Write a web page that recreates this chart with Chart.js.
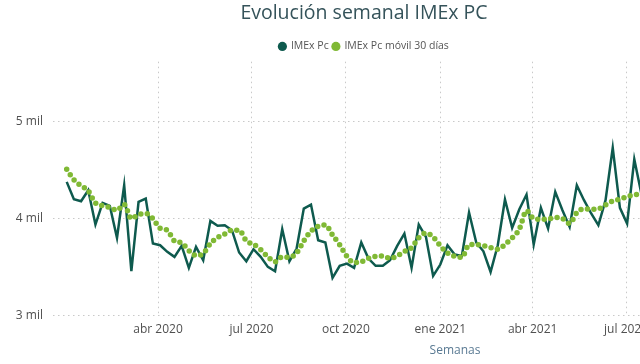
<!DOCTYPE html>
<html>
<head>
<meta charset="utf-8">
<script src="https://cdn.jsdelivr.net/npm/chart.js@4/dist/chart.umd.min.js"></script>
<style>
  html, body { margin: 0; padding: 0; background: #fff; overflow: hidden; }
  #wrap { width: 728px; height: 364px; }
</style>
</head>
<body>
<div id="wrap"><canvas id="chart"></canvas></div>
<script>
// Weekly series, first week 2020-01-03, one value per week
const primeraSemana = '2020-01-03';

const imexPc = [4378, 4199, 4178, 4292, 3938, 4162, 4131, 3801, 4343, 3457,
  4172, 4206, 3742, 3725, 3657, 3605, 3718, 3492, 3708, 3570,
  3976, 3925, 3931, 3880, 3650, 3560, 3684, 3605, 3502, 3457,
  3890, 3560, 3691, 4103, 4144, 3776, 3753, 3389, 3513, 3536,
  3492, 3753, 3588, 3513, 3513, 3570, 3718, 3845, 3492, 3938,
  3811, 3409, 3526, 3725, 3629, 3615, 4062, 3753, 3663, 3450,
  3725, 4196, 3904, 4096, 4247, 3732, 4110, 3897, 4275, 4086,
  3914, 4343, 4189, 4052, 3931, 4189, 4729, 4110, 3948, 4611, 4250];

const imexMovil = [4508, 4400, 4337, 4285, 4160, 4131, 4115, 4086, 4144, 4000,
  4041, 4052, 4000, 3900, 3880, 3770, 3750, 3670, 3620, 3640,
  3742, 3805, 3840, 3880, 3880, 3770, 3735, 3680, 3605, 3554,
  3605, 3600, 3645, 3770, 3870, 3920, 3935, 3830, 3730, 3610,
  3545, 3555, 3590, 3610, 3615, 3590, 3615, 3660, 3700, 3801,
  3850, 3811, 3718, 3645, 3610, 3600, 3730, 3732, 3720, 3700,
  3684, 3732, 3801, 3890, 4080, 4000, 3993, 3995, 4010, 4000,
  3950, 4060, 4100, 4096, 4100, 4140, 4180, 4200, 4225, 4245, 4250];

const fechasX = ['2020-04-01', '2020-07-01', '2020-10-01', '2021-01-01', '2021-04-01', '2021-07-01'];
const etiquetasX = ['abr 2020', 'jul 2020', 'oct 2020', 'ene 2021', 'abr 2021', 'jul 2021'];
const ticksY = [3000, 4000, 5000];

// days since 2020-01-01
function dia(s) {
  const p = s.split('-').map(Number);
  return (Date.UTC(p[0], p[1] - 1, p[2]) - Date.UTC(2020, 0, 1)) / 86400000;
}

const d0 = dia(primeraSemana);
const ticksXdias = fechasX.map(dia);
const toPoints = arr => arr.map((v, i) => ({ x: d0 + 7 * i, y: v }));

const gridDots = {
  color: '#c9c9c9',
  lineWidth: 1,
  drawTicks: false
};

const semanasTitle = {
  id: 'semanasTitle',
  afterDraw(chart) {
    const ctx = chart.ctx;
    ctx.save();
    ctx.font = '12px "Open Sans"';
    ctx.fillStyle = '#5a7a93';
    ctx.textAlign = 'center';
    ctx.textBaseline = 'middle';
    ctx.fillText('Semanas', 455, 351);
    ctx.restore();
  }
};

new Chart(document.getElementById('chart').getContext('2d'), {
  type: 'line',
  data: {
    datasets: [{
      label: 'IMEx Pc',
      data: toPoints(imexPc),
      borderColor: '#0e5a4e',
      backgroundColor: '#0e5a4e',
      borderWidth: 2.5,
      pointRadius: 0,
      tension: 0,
      order: 1
    }, {
      label: 'IMEx Pc móvil 30 días',
      data: toPoints(imexMovil),
      borderColor: '#80b935',
      backgroundColor: '#80b935',
      borderWidth: 5.5,
      borderDash: [0, 6.5],
      borderCapStyle: 'round',
      pointRadius: 0,
      cubicInterpolationMode: 'monotone',
      order: 0
    }]
  },
  options: {
    responsive: true,
    maintainAspectRatio: false,
    animation: false,
    layout: { padding: { top: 4, bottom: 20, left: 0, right: 0 } },
    plugins: {
      title: {
        display: true,
        text: 'Evolución semanal IMEx PC',
        color: '#35535a',
        font: { family: 'Open Sans', size: 19.5, weight: 'normal', lineHeight: 1 },
        padding: { top: 0, bottom: 13.7 }
      },
      legend: {
        display: true,
        labels: {
          usePointStyle: true,
          pointStyle: 'circle',
          boxWidth: 6.5,
          boxHeight: 6.5,
          padding: 4,
          color: '#555',
          font: { family: 'Open Sans', size: 10.5 },
          sort: (a, b) => a.datasetIndex - b.datasetIndex,
          generateLabels: chart => Chart.defaults.plugins.legend.labels.generateLabels(chart)
            .map(l => Object.assign(l, { lineWidth: 0, lineDash: [], strokeStyle: l.fillStyle }))
        }
      },
      tooltip: { enabled: false }
    },
    scales: {
      x: {
        type: 'linear',
        min: -11.35,
        max: 646.3,
        grid: gridDots,
        border: { display: false, dash: [1.5, 3.5] },
        afterBuildTicks: s => { s.ticks = ticksXdias.map(v => ({ value: v })); },
        ticks: {
          padding: 7,
          color: '#505050',
          font: { family: 'Open Sans', size: 12 },
          maxRotation: 0,
          callback: v => etiquetasX[ticksXdias.indexOf(v)]
        }
      },
      y: {
        min: 3000,
        max: 5616,
        grid: gridDots,
        border: { display: false, dash: [1.5, 3.5] },
        afterBuildTicks: s => { s.ticks = ticksY.map(v => ({ value: v })); },
        afterFit: s => { s.width = 53; },
        ticks: {
          padding: 10,
          color: '#505050',
          font: { family: 'Open Sans', size: 12 },
          callback: v => (v / 1000) + ' mil'
        }
      }
    }
  },
  plugins: [semanasTitle]
});
</script>
</body>
</html>
